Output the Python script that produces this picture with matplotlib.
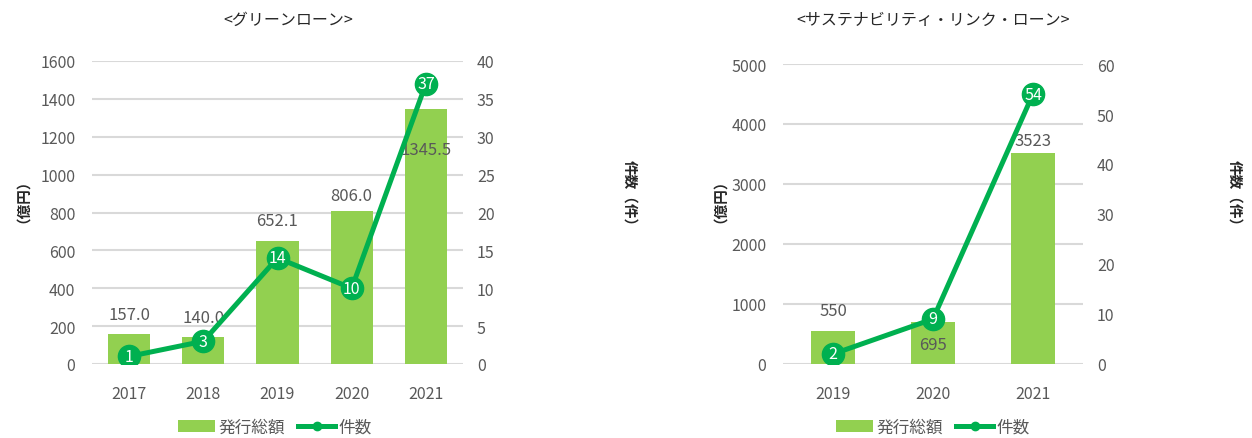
import matplotlib
matplotlib.use("Agg")
import matplotlib.pyplot as plt
from matplotlib.patches import Patch
from matplotlib.lines import Line2D

plt.rcParams["font.family"] = ["Noto Sans CJK JP", "DejaVu Sans"]

# グリーンローン
green_years = ["2017", "2018", "2019", "2020", "2021"]
green_amount = [157.0, 140.0, 652.1, 806.0, 1345.5]
green_count = [1, 3, 14, 10, 37]
# 金額ラベルの縦位置 (px, 棒の上端から)
green_label_dy = [20, 20, 20, 16, -40]

# サステナビリティ・リンク・ローン
sll_years = ["2019", "2020", "2021"]
sll_amount = [550, 695, 3523]
sll_count = [2, 9, 54]
sll_label_dy = [20, -22, 12]

BAR_COLOR = "#92D050"
LINE_COLOR = "#00B050"
TEXT_COLOR = "#595959"
GRID_COLOR = "#D9D9D9"

W, H = 1252, 439
fig = plt.figure(figsize=(W / 100, H / 100), dpi=100)
fig.patch.set_facecolor("white")


def px_box(x0, y0, x1, y1):
    return [x0 / W, 1 - y1 / H, (x1 - x0) / W, (y1 - y0) / H]


def draw_panel(rect, years, amount, count, label_dy, ymax, ystep, y2max, y2step,
               bar_width, fmt, title, title_x, ylab_x, y2lab_x, legend_x):
    ax = fig.add_axes(px_box(*rect))
    x = list(range(len(years)))
    ax.bar(x, amount, width=bar_width, color=BAR_COLOR, zorder=2)
    ax.set_xlim(-0.5, len(years) - 0.5)
    ax.set_ylim(0, ymax)
    ax.set_yticks(range(0, ymax + 1, ystep))
    ax.set_xticks(x)
    ax.set_xticklabels(years)
    ax.grid(axis="y", color=GRID_COLOR, lw=1.5, zorder=0)
    for s in ax.spines.values():
        s.set_visible(False)
    ax.tick_params(axis="y", length=0, pad=12, labelsize=11.5, labelcolor=TEXT_COLOR)
    ax.tick_params(axis="x", length=0, pad=15, labelsize=11.5, labelcolor=TEXT_COLOR)

    for xi, v, dy in zip(x, amount, label_dy):
        ax.annotate(fmt.format(v), (xi, v), xytext=(0, dy), textcoords="offset pixels",
                    ha="center", va="center", fontsize=12, color=TEXT_COLOR, zorder=5)

    ax2 = ax.twinx()
    ax2.set_ylim(0, y2max)
    ax2.set_yticks(range(0, y2max + 1, y2step))
    for s in ax2.spines.values():
        s.set_visible(False)
    ax2.tick_params(axis="y", length=0, pad=10, labelsize=11.5, labelcolor=TEXT_COLOR)
    ax2.plot(x, count, color=LINE_COLOR, lw=3.6, marker="o", markersize=16,
             markerfacecolor=LINE_COLOR, markeredgecolor=LINE_COLOR, zorder=3)
    for xi, c in zip(x, count):
        ax2.text(xi, c, str(c), ha="center", va="center", color="white",
                 fontsize=11.5, zorder=4)

    fig.text(title_x / W, 1 - 20 / H, title, ha="center", va="center",
             fontsize=11.5, color="#262626")
    fig.text(ylab_x / W, 1 - 194 / H, "（億円）", rotation=90, ha="center",
             va="center", fontsize=10.5, color="#262626", fontweight="bold")
    fig.text(y2lab_x / W, 1 - 197 / H, "件数（件）", rotation=-90, ha="center",
             va="center", fontsize=10.5, color="#262626", fontweight="bold")

    handles = [Patch(facecolor=BAR_COLOR, edgecolor="none"),
               Line2D([0], [0], color=LINE_COLOR, lw=3.6, marker="o", markersize=6)]
    fig.legend(handles, ["発行総額", "件数"], loc="center",
               bbox_to_anchor=(legend_x / W, 1 - 428 / H), ncol=2, frameon=False,
               fontsize=12, labelcolor=TEXT_COLOR, handlelength=2.2,
               handletextpad=0.2, columnspacing=0.8)
    return ax


draw_panel((92, 62, 463, 365), green_years, green_amount, green_count, green_label_dy,
           1600, 200, 40, 5, 0.57, "{:.1f}", "<グリーンローン>", 288, 15, 630, 275)
draw_panel((783, 65, 1083, 365), sll_years, sll_amount, sll_count, sll_label_dy,
           5000, 1000, 60, 10, 0.44, "{:.0f}", "<サステナビリティ・リンク・ローン>",
           933, 712, 1235, 933)

fig.savefig("out.png", dpi=100)
